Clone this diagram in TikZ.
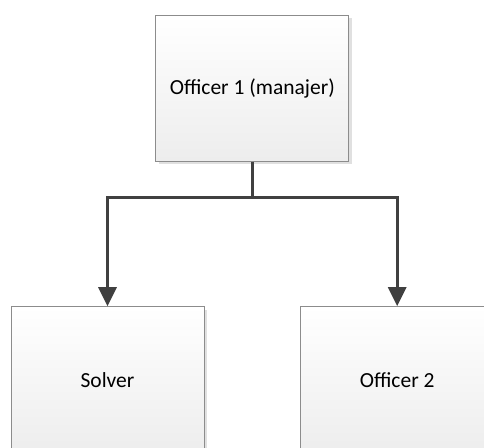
\documentclass[tikz,border=0pt]{standalone}
\usepackage{fontspec}
\setmainfont{Carlito}
\usetikzlibrary{arrows.meta,shadows}
\definecolor{boxline}{HTML}{8C8C8C}
\definecolor{boxbottom}{HTML}{EDEDED}
\definecolor{connline}{HTML}{404040}
\tikzset{
  unit/.style={rectangle, draw=boxline, line width=1pt, inner sep=0pt,
    minimum width=193pt, minimum height=146pt,
    top color=white, bottom color=boxbottom,
    drop shadow={shadow xshift=3pt, shadow yshift=-3pt, fill=black, opacity=0.12},
    font=\fontsize{21.5}{25}\selectfont},
  conn/.style={draw=connline, line width=3pt,
    -{Triangle[length=19pt,width=18pt]}}
}
\begin{document}
\begin{tikzpicture}[x=1pt,y=-1pt]
  \useasboundingbox (0,0) rectangle (484,447);
  \clip (0,0) rectangle (484,447);
  \node[unit] (mgr) at (252.3,88) {Officer 1 (manajer)};
  \node[unit] (solver) at (107.5,379.7) {Solver};
  \node[unit] (off2) at (397.2,379.7) {Officer 2};
  \coordinate (split) at (252.3,197);
  \draw[draw=connline, line width=3pt] (mgr.south) -- (split);
  \draw[conn] (split) -| (solver.north);
  \draw[conn] (split) -| (off2.north);
\end{tikzpicture}
\end{document}
